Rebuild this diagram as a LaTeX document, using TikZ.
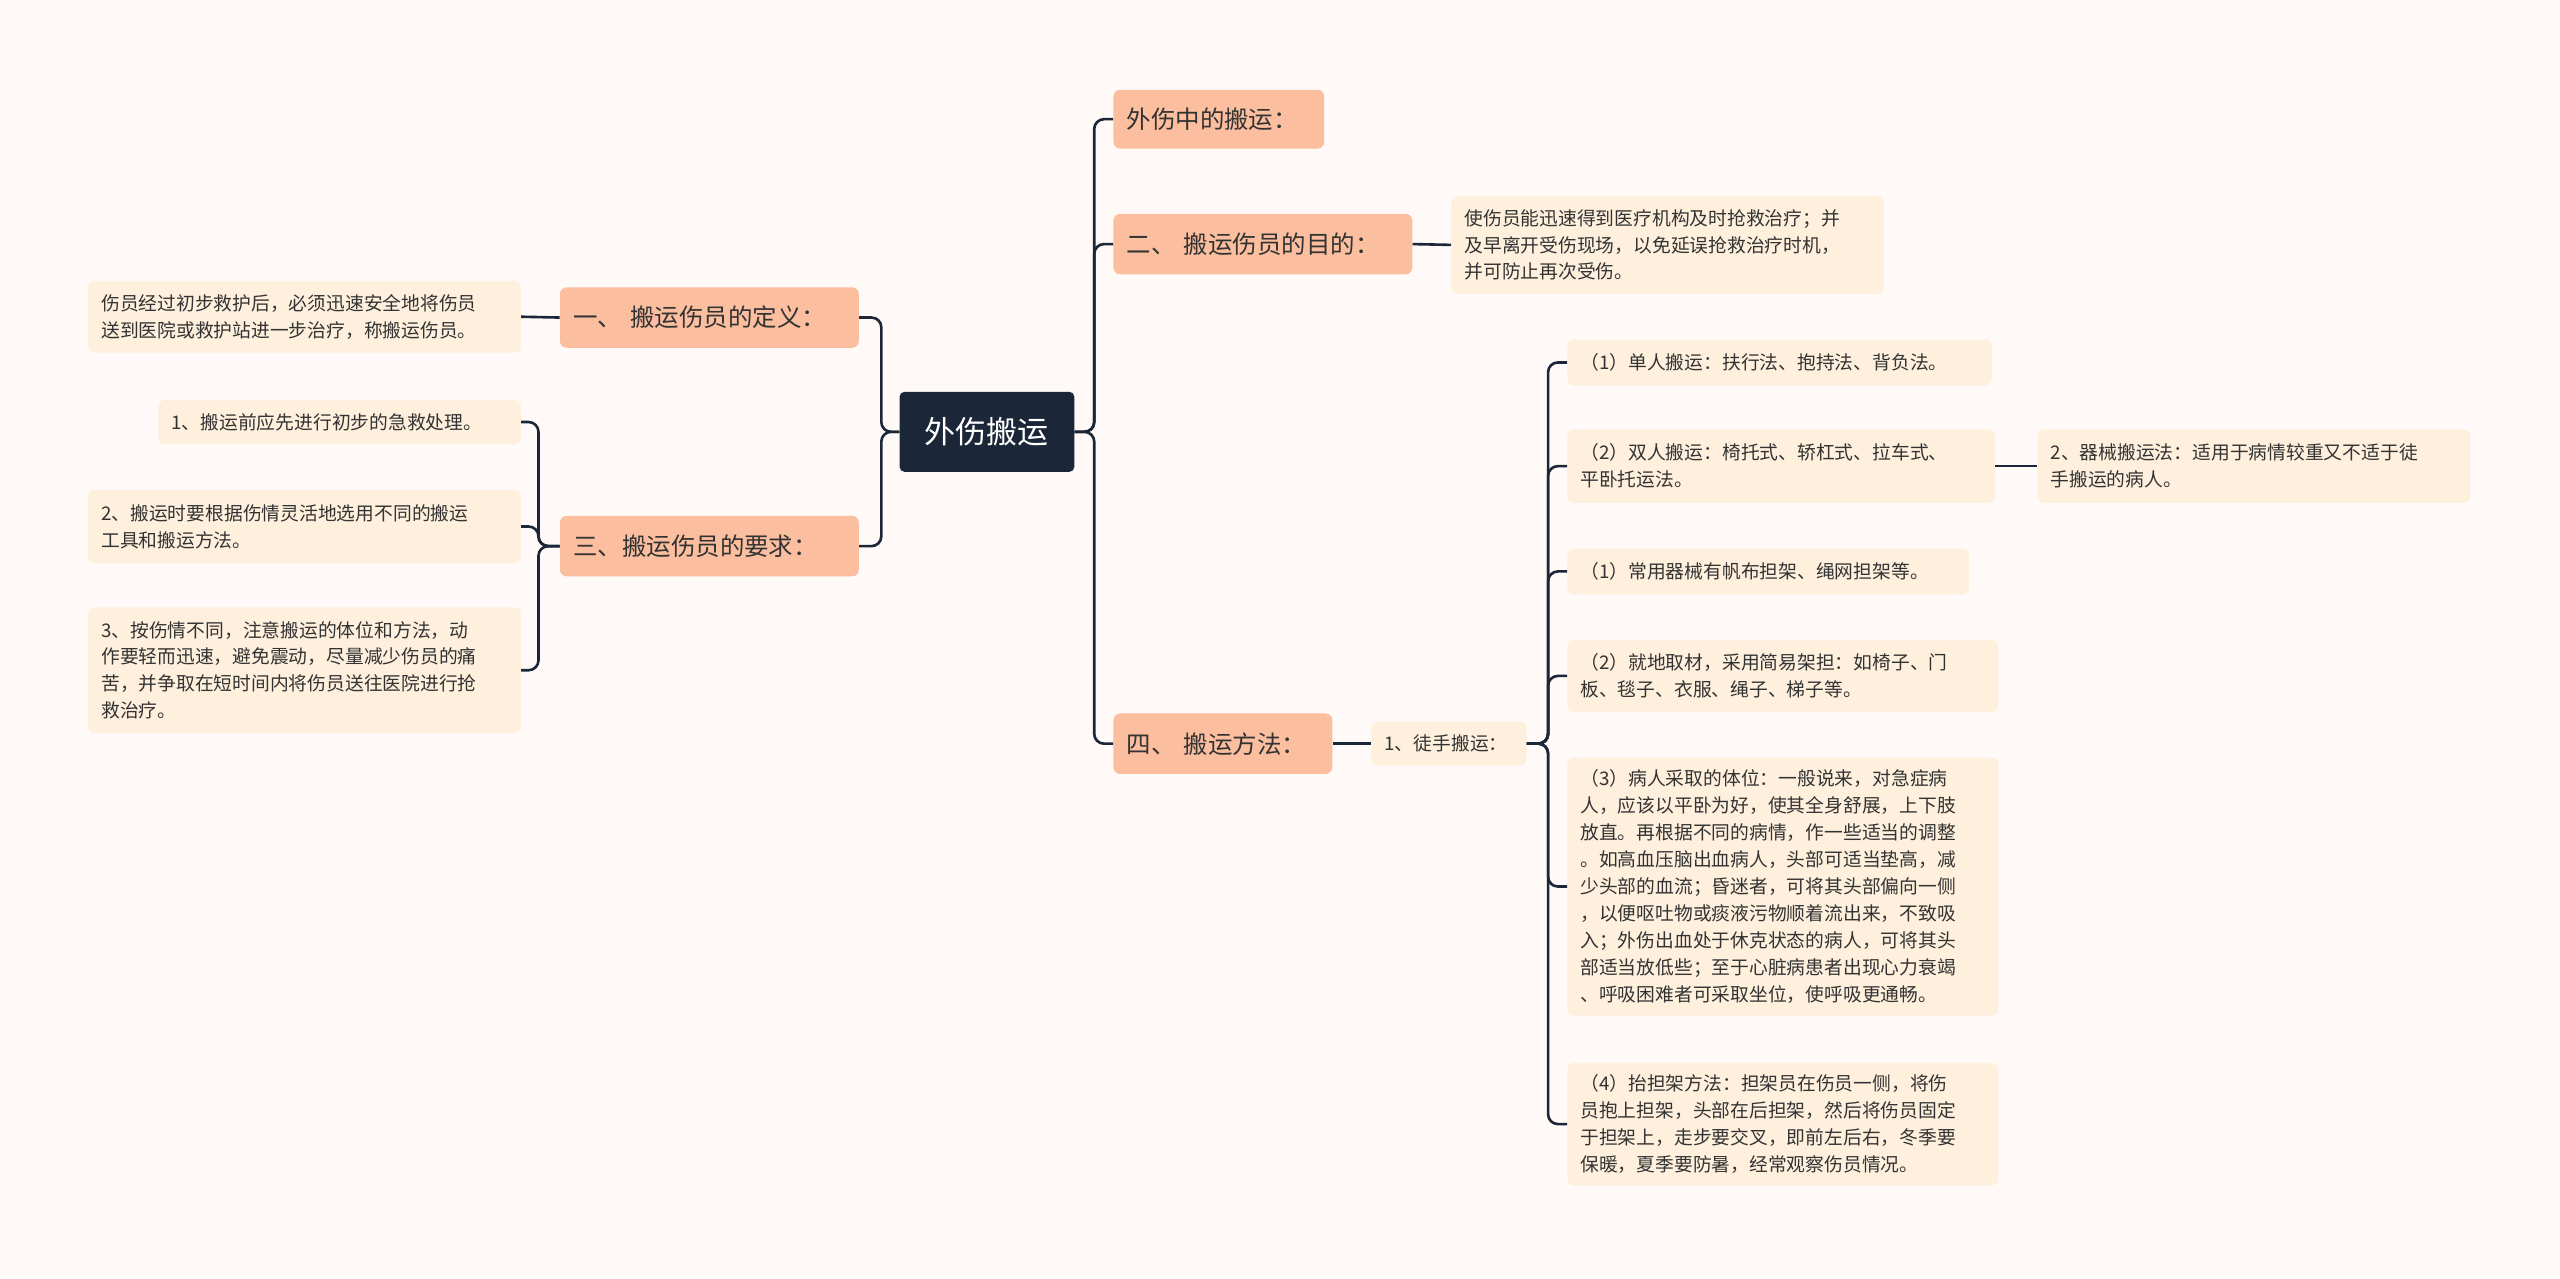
\documentclass[tikz,border=0pt]{standalone}
\usepackage{fontspec}
\setmainfont{Noto Sans CJK SC}
\definecolor{bg}{HTML}{FFFAF8}
\definecolor{lone}{HTML}{FBBE9E}
\definecolor{leaf}{HTML}{FEF0DD}
\definecolor{ink}{HTML}{1B2638}
\definecolor{txt}{HTML}{333333}
\newcommand\bx[7]{%
 \pgfmathsetmacro\bw{#4-#2}\pgfmathsetmacro\bh{#5-#3}%
 \pgfmathsetmacro\tw{#4-#2-16}%
 \node[#6, minimum width=\bw pt, minimum height=\bh pt, text width=\tw pt] (#1) at ({(#2+#4)/2},{(#3+#5)/2}) {#7};}
\tikzset{
 lone/.style={fill=lone, rounded corners=4pt, inner sep=0pt, align=left, text=txt, font=\fontsize{15}{18}\selectfont},
 leafb/.style={fill=leaf, rounded corners=4pt, inner sep=0pt, align=left, text=txt, font=\fontsize{11.5}{16.5}\selectfont},
 ln/.style={draw=ink, line width=1.6pt, rounded corners=6pt}
}
\begin{document}
\begin{tikzpicture}[x=1pt,y=-1pt]
\fill[bg] (0,0) rectangle (1568,783);
\useasboundingbox (0,0) rectangle (1568,783);
\node[fill=ink, rounded corners=3pt, minimum width=107pt, minimum height=49pt, text=white, font=\fontsize{19}{22}\selectfont] (c) at (604.5,264.5) {外伤搬运};
\bx{a}{682}{55}{811}{91}{lone}{外伤中的搬运：}
\bx{p}{682}{131}{865}{168}{lone}{二、 搬运伤员的目的：}
\bx{m}{682}{437}{816}{474}{lone}{四、 搬运方法：}
\bx{d}{343}{176}{526}{213}{lone}{一、 搬运伤员的定义：}
\bx{r}{343}{316}{526}{353}{lone}{三、搬运伤员的要求：}
\bx{pl}{889}{120}{1154}{180}{leafb}{使伤员能迅速得到医疗机构及时抢救治疗；并\\及早离开受伤现场，以免延误抢救治疗时机，\\并可防止再次受伤。}
\bx{dl}{54}{172}{319}{216}{leafb}{伤员经过初步救护后，必须迅速安全地将伤员\\送到医院或救护站进一步治疗，称搬运伤员。}
\bx{r1}{97}{245}{319}{272}{leafb}{1、搬运前应先进行初步的急救处理。}
\bx{r2}{54}{300}{319}{345}{leafb}{2、搬运时要根据伤情灵活地选用不同的搬运\\工具和搬运方法。}
\bx{r3}{54}{372}{319}{449}{leafb}{3、按伤情不同，注意搬运的体位和方法，动\\作要轻而迅速，避免震动，尽量减少伤员的痛\\苦，并争取在短时间内将伤员送往医院进行抢\\救治疗。}
\bx{t}{840}{442}{935}{469}{leafb}{1、徒手搬运：}
\bx{s1}{960}{208}{1220}{236}{leafb}{（1）单人搬运：扶行法、抱持法、背负法。}
\bx{s2}{960}{263}{1222}{308}{leafb}{（2）双人搬运：椅托式、轿杠式、拉车式、\\平卧托运法。}
\bx{s3}{960}{336}{1206}{364}{leafb}{（1）常用器械有帆布担架、绳网担架等。}
\bx{s4}{960}{392}{1224}{436}{leafb}{（2）就地取材，采用简易架担：如椅子、门\\板、毯子、衣服、绳子、梯子等。}
\bx{s5}{960}{464}{1224}{622}{leafb}{（3）病人采取的体位：一般说来，对急症病\\人，应该以平卧为好，使其全身舒展，上下肢\\放直。再根据不同的病情，作一些适当的调整\\。如高血压脑出血病人，头部可适当垫高，减\\少头部的血流；昏迷者，可将其头部偏向一侧\\，以便呕吐物或痰液污物顺着流出来，不致吸\\入；外伤出血处于休克状态的病人，可将其头\\部适当放低些；至于心脏病患者出现心力衰竭\\、呼吸困难者可采取坐位，使呼吸更通畅。}
\bx{s6}{960}{651}{1224}{726}{leafb}{（4）抬担架方法：担架员在伤员一侧，将伤\\员抱上担架，头部在后担架，然后将伤员固定\\于担架上，走步要交叉，即前左后右，冬季要\\保暖，夏季要防暑，经常观察伤员情况。}
\bx{q}{1248}{263}{1513}{308}{leafb}{2、器械搬运法：适用于病情较重又不适于徒\\手搬运的病人。}
\foreach \n in {a,p,m} \draw[ln] (c.east) -- ++(12,0) |- (\n.west);
\foreach \n in {d,r} \draw[ln] (c.west) -- ++(-11,0) |- (\n.east);
\draw[ln] (d.west) -- (dl.east);
\foreach \n in {r1,r2,r3} \draw[ln] (r.west) -- ++(-13,0) |- (\n.east);
\draw[ln] (p.east) -- (pl.west);
\draw[ln] (m.east) -- (t.west);
\foreach \n in {s1,s2,s3,s4,s5,s6} \draw[ln] (t.east) -- ++(13,0) |- (\n.west);
\draw[ln] (s2.east) -- (q.west);
\end{tikzpicture}
\end{document}
